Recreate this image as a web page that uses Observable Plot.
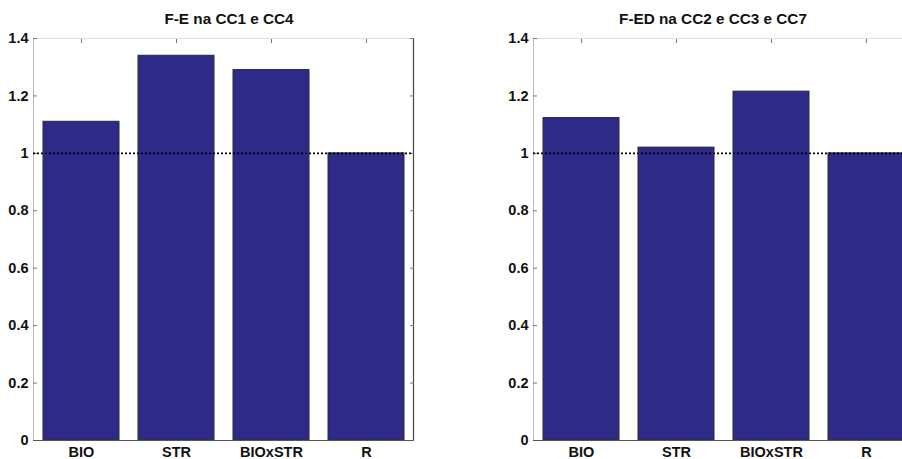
<!DOCTYPE html>
<html>
<head>
<meta charset="utf-8">
<script src="https://cdn.jsdelivr.net/npm/d3@7"></script>
<script src="https://cdn.jsdelivr.net/npm/@observablehq/plot@0.6"></script>
<style>
  html, body { margin: 0; padding: 0; background: #fff; overflow: hidden; width: 902px; height: 459px; }
  .panel { position: absolute; top: 0; width: 450px; height: 459px; }
  .title { position: absolute; top: 10px; width: 100%; text-align: center; font: bold 15.3px "Liberation Sans", Arial, sans-serif; color: #111; }
  svg { position: absolute; top: 0; left: 0; }
</style>
</head>
<body>
<div id="p1" class="panel" style="left:0px"></div>
<div id="p2" class="panel" style="left:500px"></div>
<script>
const categories = ["BIO", "STR", "BIOxSTR", "R"];
const titles = ["F-E na CC1 e CC4", "F-ED na CC2 e CC3 e CC7"];
const valuesLeft = [1.11, 1.34, 1.29, 1.00];
const valuesRight = [1.123, 1.02, 1.215, 1.00];
const yTicks = [0, 0.2, 0.4, 0.6, 0.8, 1, 1.2, 1.4];
const refLine = [1];

function panel(id, title, values, titleShift) {
  const data = categories.map((c, i) => ({cat: c, value: values[i]}));
  const el = document.getElementById(id);
  const t = document.createElement("div");
  t.className = "title";
  t.style.left = titleShift + "px";
  t.textContent = title;
  const chart = Plot.plot({
    width: 450,
    height: 459,
    marginLeft: 33,
    marginRight: 37,
    marginTop: 38,
    marginBottom: 19,
    style: {fontFamily: "'Liberation Sans', Arial, sans-serif", fontSize: "14.5px", fontWeight: "bold", color: "#111", background: "transparent", overflow: "visible"},
    x: {domain: categories, paddingInner: 0.2, paddingOuter: 0.1, axis: null},
    y: {domain: [0, 1.4], axis: null},
    marks: [
      Plot.ruleY([1.4], {stroke: "#ddd", strokeWidth: 1}),
      Plot.frame({anchor: "left", stroke: "#bbb"}),
      Plot.frame({anchor: "right", stroke: "#444", strokeWidth: 1.2}),
      Plot.axisX({anchor: "top", tickSize: -4, tickFormat: () => "", label: null, stroke: "#777"}),
      Plot.axisY({anchor: "right", ticks: yTicks, tickSize: -4, tickFormat: () => "", label: null, stroke: "#777"}),
      Plot.axisY({anchor: "left", ticks: yTicks, tickSize: -4, tickFormat: () => "", label: null, stroke: "#777"}),
      Plot.barY(data, {x: "cat", y: "value", fill: "#2d2a88", stroke: "#2a2a3a", strokeWidth: 1}),
      Plot.ruleY(refLine, {stroke: "#000", strokeWidth: 1.6, strokeDasharray: "2,2"}),
      Plot.ruleY([0], {stroke: "#555", strokeWidth: 1.2}),
      Plot.axisY({anchor: "left", ticks: yTicks, tickSize: 0, tickPadding: 5, tickFormat: d => String(d), label: null, fontSize: 14.5, fontWeight: "bold"}),
      Plot.axisX({anchor: "bottom", tickSize: 0, tickPadding: 6, label: null, fontSize: 14.5, fontWeight: "bold"})
    ]
  });
  el.appendChild(chart);
  el.appendChild(t);
}
panel("p1", titles[0], valuesLeft, 4);
panel("p2", titles[1], valuesRight, -12);
</script>
</body>
</html>
